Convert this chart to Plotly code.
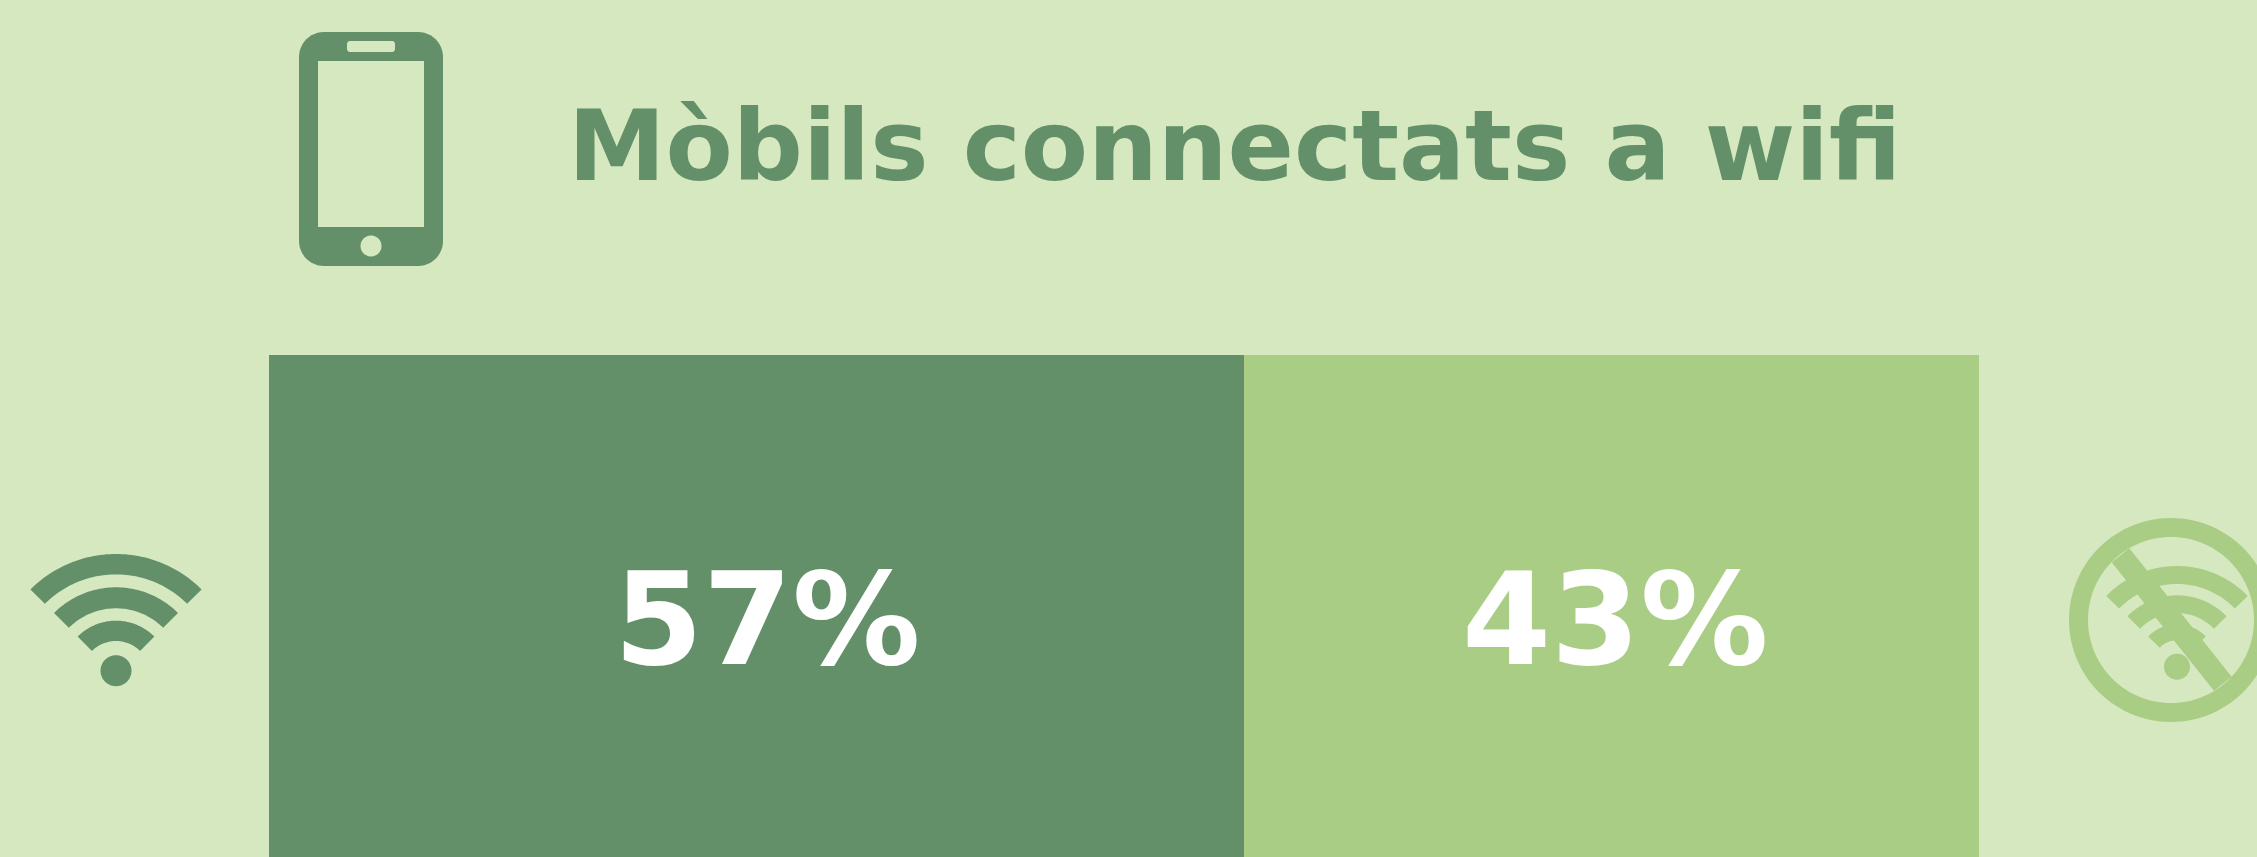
import numpy as np
import plotly.graph_objects as go

W, H = 2257, 857
BG = "#D5E8BF"
DARK = "#639069"
LIGHT = "#AACD85"

title = "Mòbils connectats a wifi"
categories = ["Connectats a wifi"]
series_names = ["Sí", "No"]
series_values = [57, 43]
series_labels = ["57%", "43%"]
series_colors = [DARK, LIGHT]
label_shift_px = [11, 4]

BAR_LEFT, BAR_RIGHT, BAR_TOP = 269, 1979, 355


def px(x, y):
    return x / W, 1 - y / H


def poly(points):
    parts = []
    for i, (x, y) in enumerate(points):
        fx, fy = px(x, y)
        parts.append(f"{'M' if i == 0 else 'L'}{fx:.6f},{fy:.6f}")
    return " ".join(parts) + " Z"


def shape(points, color):
    return dict(type="path", xref="paper", yref="paper", path=poly(points),
                fillcolor=color, line=dict(width=0), layer="above")


def circle(cx, cy, r, color):
    t = np.linspace(0, 2 * np.pi, 121)[:-1]
    return shape(list(zip(cx + r * np.cos(t), cy + r * np.sin(t))), color)


def rrect(x0, y0, x1, y1, r, color):
    pts = []
    for cx, cy, a in [(x1 - r, y0 + r, -90), (x1 - r, y1 - r, 0), (x0 + r, y1 - r, 90), (x0 + r, y0 + r, 180)]:
        for t in np.radians(np.linspace(a, a + 90, 13)):
            pts.append((cx + r * np.cos(t), cy + r * np.sin(t)))
    return shape(pts, color)


def arc(cx, cy, r0, r1, half_deg, color):
    t = np.radians(np.linspace(-90 - half_deg, -90 + half_deg, 61))
    outer = [(cx + r1 * np.cos(a), cy + r1 * np.sin(a)) for a in t]
    inner = [(cx + r0 * np.cos(a), cy + r0 * np.sin(a)) for a in t[::-1]]
    return shape(outer + inner, color)


shapes = [
    # phone
    rrect(299, 32, 443, 266, 25, DARK),
    rrect(347, 41, 395, 52, 3, BG),
    shape([(318, 61), (424, 61), (424, 227), (318, 227)], BG),
    circle(371, 246, 10.5, BG),
    # wifi
    arc(116, 675, 100.6, 121, 45, DARK),
    arc(116, 675, 66.7, 87.7, 45, DARK),
    arc(116, 675, 34, 54.3, 45, DARK),
    circle(116, 670.7, 15.5, DARK),
    # no wifi
    circle(2171, 620, 102, LIGHT),
    circle(2171, 620, 83, BG),
    arc(2177, 664.3, 80.3, 98.3, 46, LIGHT),
    arc(2177, 664.3, 51.3, 69, 46, LIGHT),
    arc(2177, 664.3, 24, 40, 46, LIGHT),
    circle(2177, 666.7, 13, LIGHT),
    shape([(2129.3, 548.3), (2231.7, 676.7), (2214, 690.7), (2111.7, 562.3)], LIGHT),
]

fig = go.Figure()
for name, val, color in zip(series_names, series_values, series_colors):
    fig.add_trace(go.Bar(x=[val], y=categories, name=name, orientation="h",
                         marker=dict(color=color, line=dict(width=0)), hoverinfo="skip"))

annotations = []
left = 0
for val, lab, shift in zip(series_values, series_labels, label_shift_px):
    annotations.append(dict(x=left + val / 2, y=1 - 619 / H, xref="x", yref="paper", text=f"<b>{lab}</b>",
                            yanchor="middle", xanchor="center", showarrow=False, xshift=shift,
                            font=dict(family="DejaVu Sans", size=128, color="white")))
    left += val

fig.update_layout(
    width=W, height=H, autosize=False,
    margin=dict(l=0, r=0, t=0, b=0),
    paper_bgcolor=BG, plot_bgcolor=BG,
    barmode="stack", bargap=0, showlegend=False,
    title=dict(text=f"<b>{title}</b>", x=568 / W, xanchor="left", xref="paper",
               y=1 - 146 / H, yref="paper", yanchor="middle",
               font=dict(family="DejaVu Sans", size=98, color=DARK)),
    xaxis=dict(domain=[BAR_LEFT / W, BAR_RIGHT / W], range=[0, 100], visible=False, fixedrange=True),
    yaxis=dict(domain=[0, 1 - BAR_TOP / H], range=[-0.5, 0.5], visible=False, fixedrange=True),
    shapes=shapes, annotations=annotations,
)
fig.write_html("out.html", config=dict(displayModeBar=False),
               post_script="document.documentElement.style.margin='0';document.body.style.margin='0';document.body.style.overflow='hidden';")
